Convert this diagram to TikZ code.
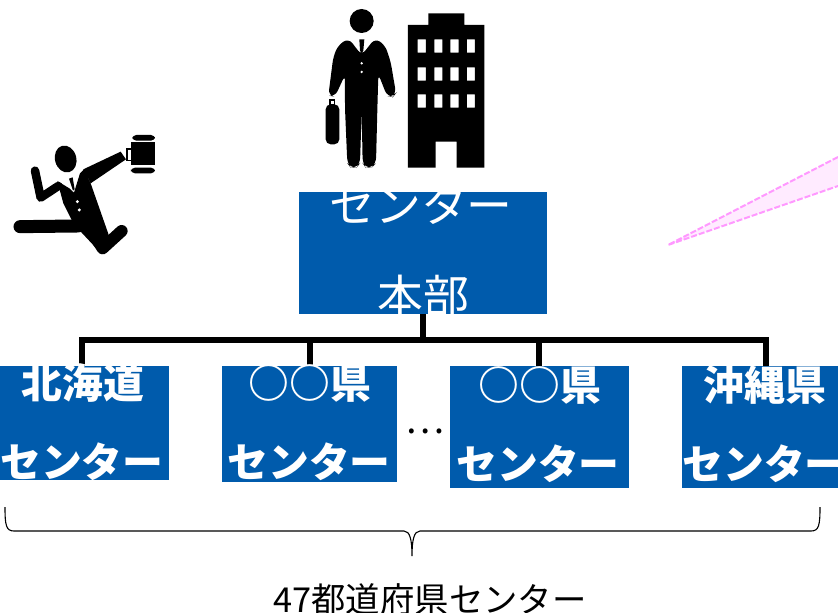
\documentclass[tikz,border=0pt]{standalone}
\usepackage{fontspec}
\newfontfamily\cjk{Noto Sans CJK JP}
\definecolor{boxblue}{HTML}{005BAC}
\definecolor{wedgefill}{HTML}{FFEBFF}
\definecolor{wedgeline}{HTML}{FF99FF}
\tikzset{
  box/.style={fill=boxblue,draw=none,inner sep=0pt,anchor=north west},
  boxtext/.style={text=white,inner sep=0pt,font=\cjk\fontsize{41}{41}\selectfont\bfseries},
  toptext/.style={text=white,inner sep=0pt,font=\cjk\fontsize{46}{46}\selectfont},
  tree/.style={line width=6bp,black},
  sil/.style={fill=black,draw=none},
  limb/.style={draw=black,line cap=round,line join=round},
}
\begin{document}
\begin{tikzpicture}[x=1bp,y=-1bp]
\useasboundingbox (0,0) rectangle (838,613);
% wedge
\fill[wedgefill] (668,245) -- (838,157) -- (838,186) -- cycle;
\draw[wedgeline,line width=2bp,dash pattern=on 6bp off 2bp] (838,157) -- (668,245) -- (838,186);
% boxes
\node[box,minimum width=248bp,minimum height=122bp] (hq) at (299,192) {};
\node[box,minimum width=169bp,minimum height=114bp] (b1) at (0,366) {};
\node[box,minimum width=175bp,minimum height=116bp] (b2) at (222,366) {};
\node[box,minimum width=179bp,minimum height=122bp] (b3) at (450,366) {};
\node[box,minimum width=156bp,minimum height=122bp] (b4) at (682,366) {};
% tree
\coordinate (busl) at (82,340);
\coordinate (busr) at (766,340);
\draw[tree,line cap=rect] (busl) -- (busr);
\draw[tree] (hq.south -| 423,0) -- (423,340);
\draw[tree] (busl) -- (b1.north -| busl);
\draw[tree] (310,340) -- (b2.north -| 310,0);
\draw[tree] (539,340) -- (b3.north -| 539,0);
\draw[tree] (busr) -- (b4.north -| busr);
% texts
\node[toptext] (t0a) at (421,205) {センター};
\node[toptext] (t0b) at (423,296) {本部};
\node[boxtext] (t1a) at (83,383) {北海道};
\node[boxtext] (t1b) at (82,462) {センター};
\node[boxtext] (t2a) at (310,383) {○○県};
\node[boxtext] (t2b) at (309,462) {センター};
\node[boxtext] (t3a) at (540,385) {○○県};
\node[boxtext] (t3b) at (538,464) {センター};
\node[boxtext] (t4a) at (765,385) {沖縄県};
\node[boxtext] (t4b) at (764,464) {センター};
\node[inner sep=0pt,font=\cjk\fontsize{37}{37}\selectfont] (dots) at (425,431) {…};
\node[inner sep=0pt,font=\cjk\fontsize{34.5}{35}\selectfont] (total) at (430,599) {47都道府県センター};
% brace
\draw[line width=1.1bp,black] (5,507) .. controls (5,525) and (6,531) .. (14,531)
  -- (404,531) .. controls (410,531) and (412,540) .. (412,556)
  .. controls (412,540) and (414,531) .. (420,531)
  -- (811,531) .. controls (819,531) and (820,525) .. (820,507);
% person and building
\begin{scope}[shift={(300,0)},x=0.3333bp,y=-0.3333bp]
  \fill[sil] (185,63) circle[radius=36];
  \fill[sil,rounded corners=6] (146,115) -- (185,166) -- (225,115) -- (255,135) -- (272,185) -- (288,280) -- (280,290) -- (262,290)
    -- (235,222) -- (232,330) -- (228,490) -- (215,503) -- (197,503) -- (188,490) -- (185,335) -- (180,490) -- (170,503) -- (152,503)
    -- (142,490) -- (135,325) -- (135,225) -- (105,290) -- (85,287) -- (100,170) -- (115,135) -- cycle;
  \fill[sil] (178,118) -- (193,118) -- (190,152) -- (185,160) -- (180,152) -- cycle;
  \fill[white] (185,190) circle[radius=4] (185,216) circle[radius=4];
  \fill[sil,rounded corners=5] (77,313) rectangle (118,433);
  \fill[sil] (88,296) rectangle (106,315);
  \fill[white] (93,302) rectangle (101,312);
  % building
  \fill[sil,even odd rule] (324,75) -- (385,75) -- (385,40) -- (493,40) -- (493,75) -- (553,75) -- (553,503) -- (470,503)
     -- (470,425) -- (407,425) -- (407,503) -- (324,503) -- cycle
     (353,118) rectangle (378,158) (403,118) rectangle (427,158) (451,118) rectangle (476,158) (501,118) rectangle (525,158)
     (353,202) rectangle (378,242) (403,202) rectangle (427,242) (451,202) rectangle (476,242) (501,202) rectangle (525,242)
     (353,283) rectangle (378,323) (403,283) rectangle (427,323) (451,283) rectangle (476,323) (501,283) rectangle (525,323);
\end{scope}
% runner
\begin{scope}[shift={(0,120)},x=0.3333bp,y=-0.3333bp]
  \fill[sil,rotate around={15:(197,117)}] (197,117) ellipse[x radius=32,y radius=41];
  \draw[limb,line width=8.5bp] (105,152) -- (122,233) -- (175,198);
  \fill[sil] (172,183) -- (208,205) -- (222,218) -- (240,160) -- (252,148) -- (272,190) -- (328,350) -- (305,402) -- (245,338) -- (215,300) -- (190,250) -- cycle;
  \fill[sil] (250,148) -- (362,95) -- (378,118) -- (272,190) -- cycle;
  \draw[limb,line width=13bp] (60,320) -- (235,318);
  \draw[limb,line width=12bp] (285,350) -- (308,385) -- (365,333);
  \fill[sil] (207,176) -- (218,172) -- (224,208) -- (219,212) -- cycle;
  \fill[white] (232,245) circle[radius=5] (238,270) circle[radius=5];
  % briefcase
  \fill[sil,rounded corners=4] (397,45) rectangle (465,62);
  \fill[sil] (393,67) rectangle (465,134);
  \fill[sil,rounded corners=4] (393,143) rectangle (465,160);
  \draw[black,line width=1.3bp] (393,87) -- (381,87) -- (381,122) -- (393,122);
\end{scope}
\end{tikzpicture}
\end{document}
